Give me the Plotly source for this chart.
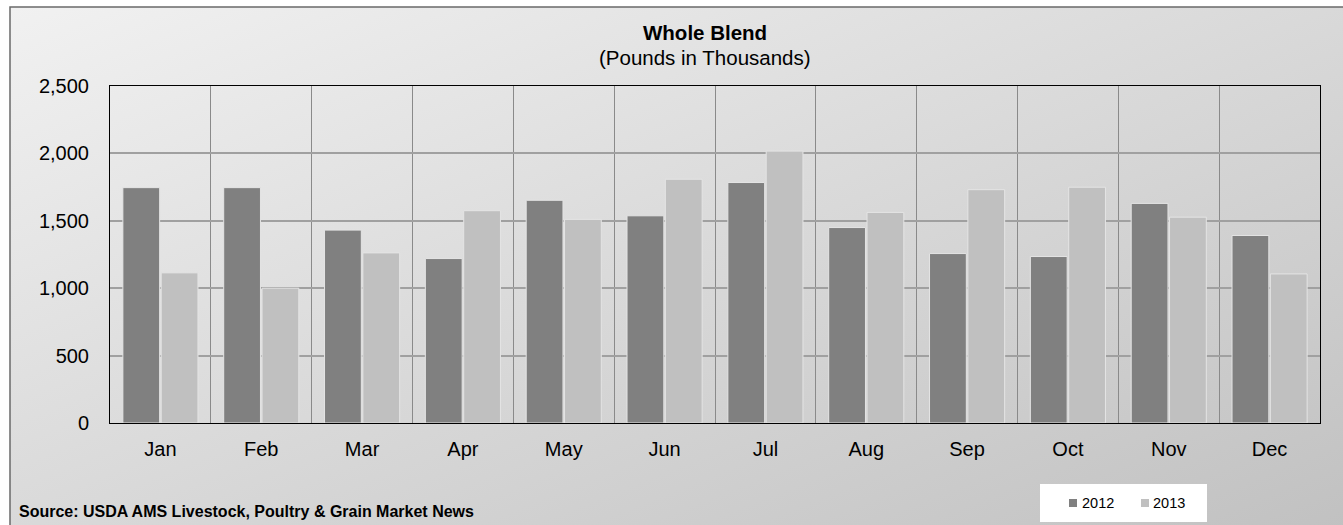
import base64
import plotly.graph_objects as go

# ---- data ----
months = ["Jan", "Feb", "Mar", "Apr", "May", "Jun", "Jul", "Aug", "Sep", "Oct", "Nov", "Dec"]
series_names = ["2012", "2013"]
values_2012 = [1746, 1746, 1431, 1220, 1652, 1537, 1784, 1450, 1257, 1235, 1629, 1391]
values_2013 = [1114, 1000, 1262, 1575, 1510, 1808, 2017, 1562, 1731, 1749, 1527, 1106]
y_ticks = [0, 500, 1000, 1500, 2000, 2500]
title_main = "Whole Blend"
title_sub = "(Pounds in Thousands)"
source_text = "Source: USDA AMS Livestock, Poultry & Grain Market News"

colors = ["#808080", "#c0c0c0"]

W, H = 1343, 525
L, R, T, B = 110, 23, 86, 102
PW = W - L - R
PH = H - T - B
FONT = "Arial, Liberation Sans, sans-serif"


def px(x):
    return (x - L) / PW


def py(y):
    return (H - B - y) / PH


fig = go.Figure()
for name, vals, col in zip(series_names, [values_2012, values_2013], colors):
    fig.add_trace(go.Bar(
        x=months, y=vals, name=name,
        marker=dict(color=col, line=dict(color="#e4e4e4", width=1)),
        showlegend=False,
    ))

svg = ('<svg xmlns="http://www.w3.org/2000/svg" width="200" height="200" preserveAspectRatio="none">'
       '<defs><linearGradient id="g" x1="0" y1="0" x2="1" y2="1">'
       '<stop offset="0" stop-color="#f1f1f1"/><stop offset="1" stop-color="#c0c0c0"/>'
       '</linearGradient></defs><rect width="200" height="200" fill="url(#g)"/></svg>')
src = "data:image/svg+xml;base64," + base64.b64encode(svg.encode()).decode()

shapes = [
    dict(type="rect", xref="paper", yref="paper", x0=px(10), x1=px(1360), y0=py(540), y1=py(7),
         line=dict(color="#6a6a6a", width=1.5), fillcolor="rgba(0,0,0,0)", layer="below"),
    # legend box
    dict(type="rect", xref="paper", yref="paper", x0=px(1040), x1=px(1207), y0=py(522), y1=py(484),
         line=dict(width=0), fillcolor="white", layer="above"),
]
legend_pos = [(1069, 1080), (1141, 1151)]
annotations = []
for (sx, tx), name, col in zip(legend_pos, series_names, colors):
    shapes.append(dict(type="rect", xref="paper", yref="paper", x0=px(sx), x1=px(sx + 8),
                       y0=py(507), y1=py(499), line=dict(width=0), fillcolor=col, layer="above"))
    annotations.append(dict(text=name, xref="paper", yref="paper", x=px(tx), y=py(503),
                            xanchor="left", yanchor="middle", showarrow=False,
                            font=dict(family=FONT, size=14.5, color="#000")))

annotations += [
    dict(text="<b>" + title_main + "</b>", xref="paper", yref="paper", x=px(705), y=py(32),
         xanchor="center", yanchor="middle", showarrow=False,
         font=dict(family=FONT, size=20.5, color="#000")),
    dict(text=title_sub, xref="paper", yref="paper", x=px(705), y=py(57),
         xanchor="center", yanchor="middle", showarrow=False,
         font=dict(family=FONT, size=20.5, color="#000")),
    dict(text="<b>" + source_text + "</b>", xref="paper", yref="paper", x=px(17), y=py(511),
         xanchor="left", yanchor="middle", showarrow=False,
         font=dict(family=FONT, size=16, color="#000")),
]

fig.update_layout(
    width=W, height=H, autosize=False,
    margin=dict(l=L, r=R, t=T, b=B, pad=0),
    paper_bgcolor="white", plot_bgcolor="white",
    barmode="group", bargap=0.24, bargroupgap=0.04,
    font=dict(family=FONT, size=20, color="#000"),
    images=[dict(source=src, xref="paper", yref="paper", x=px(10), y=py(7),
                 sizex=(W + 20 - 10) / PW, sizey=(H + 20 - 7) / PH,
                 xanchor="left", yanchor="top", sizing="stretch", layer="below")],
    shapes=shapes, annotations=annotations,
)
fig.update_xaxes(
    type="category", tickson="boundaries", showgrid=True, gridcolor="#8a8a8a", gridwidth=1,
    showline=True, linecolor="#000", linewidth=1, mirror=True,
    ticks="", ticklabelstandoff=8, tickfont=dict(family=FONT, size=20, color="#000"),
)
fig.update_yaxes(
    range=[0, 2500], tickvals=y_ticks, tickformat=",", showgrid=True, gridcolor="#a0a0a0", gridwidth=1.5,
    showline=True, linecolor="#000", linewidth=1, mirror=True, zeroline=False,
    ticks="", ticklabelstandoff=16, tickfont=dict(family=FONT, size=20, color="#000"),
)

fig.write_html("out.html", config={"displayModeBar": False},
               post_script="document.body.style.margin='0';document.body.style.overflow='hidden';")
